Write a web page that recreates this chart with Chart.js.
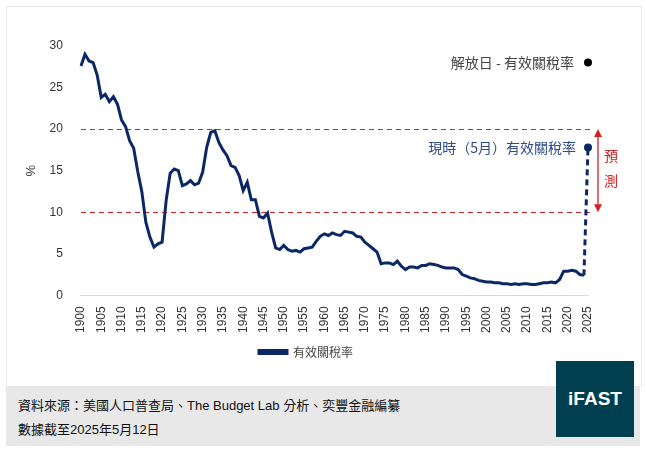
<!DOCTYPE html>
<html>
<head>
<meta charset="utf-8">
<script src="https://cdn.jsdelivr.net/npm/chart.js@4"></script>
<style>
  body { margin: 0; background: #fff; width: 646px; height: 460px; position: relative; font-family: 'Liberation Sans', 'Noto Sans CJK TC', sans-serif; }
  .card { position: absolute; left: 6px; top: 6px; width: 634px; height: 380px; border: 1px solid #e6e6e6; border-bottom: none; }
  #wrap { position: absolute; left: 0; top: 0; width: 646px; height: 380px; }
  .footer { position: absolute; left: 6px; top: 386px; width: 634px; height: 60px; background: #e8e8e8; font-size: 13px; color: #111; }
  .footer div { position: absolute; left: 12px; }
  .logo { position: absolute; left: 556px; top: 361px; width: 78px; height: 76px; background: #003f50; color: #fff; font-weight: bold; font-size: 19px; display: flex; align-items: center; justify-content: center; }
</style>
</head>
<body>
<div class="card"></div>
<div id="wrap"><canvas id="chart"></canvas></div>
<div class="footer">
  <div style="top:9px">資料來源：美國人口普查局、The Budget Lab 分析、奕豐金融編纂</div>
  <div style="top:33px">數據截至2025年5月12日</div>
</div>
<div class="logo">iFAST</div>
<script>
const years = [];
for (let y = 1900; y <= 2025; y++) years.push(String(y));

const tariffRate = [
  27.6, 29.0, 28.2, 28.0, 26.5, 23.8, 24.2, 23.3, 23.9, 23.0,
  21.1, 20.3, 18.6, 17.7, 14.9, 12.5, 8.8, 7.0, 5.8, 6.2,
  6.4, 11.4, 14.7, 15.2, 15.0, 13.2, 13.4, 13.8, 13.3, 13.5,
  14.8, 17.8, 19.6, 19.8, 18.4, 17.5, 16.8, 15.6, 15.4, 14.4,
  12.6, 13.6, 11.5, 11.5, 9.5, 9.3, 9.9, 7.6, 5.7, 5.5,
  6.0, 5.5, 5.3, 5.4, 5.2, 5.6, 5.7, 5.8, 6.5, 7.1,
  7.4, 7.2, 7.5, 7.3, 7.2, 7.7, 7.6, 7.5, 7.1, 7.0,
  6.4, 6.0, 5.6, 5.2, 3.8, 3.9, 3.9, 3.7, 4.1, 3.5,
  3.1, 3.4, 3.4, 3.3, 3.6, 3.6, 3.8, 3.7, 3.6, 3.4,
  3.3, 3.3, 3.3, 3.1, 2.5, 2.3, 2.1, 2.0, 1.8, 1.7,
  1.6, 1.6, 1.5, 1.5, 1.4, 1.4, 1.3, 1.4, 1.3, 1.4,
  1.4, 1.3, 1.3, 1.4, 1.5, 1.5, 1.6, 1.5, 1.9, 2.9,
  2.9, 3.0, 2.9, 2.5, 2.4, null
];
const currentRate = 17.8;
const liberationRate = 28;
const forecastLines = [10, 20];
const yTicks = [0, 5, 10, 15, 20, 25, 30];

const navy = '#0b2765';
const red = '#d42020';

const jump = years.map((y, i) => i === 124 ? tariffRate[124] : (i === 125 ? currentRate : null));
const libPoint = years.map((y, i) => i === 125 ? liberationRate : null);

const overlay = {
  id: 'overlay',
  beforeDatasetsDraw(chart) {
    const { ctx, scales: { x, y } } = chart;
    ctx.save();
    ctx.strokeStyle = red;
    ctx.lineWidth = 1.2;
    ctx.setLineDash([5, 4]);
    forecastLines.forEach(v => {
      const py = Math.round(y.getPixelForValue(v)) + 0.5;
      ctx.beginPath();
      ctx.moveTo(x.left, py);
      ctx.lineTo(x.getPixelForValue(125) + 4, py);
      ctx.stroke();
    });
    ctx.restore();
  },
  afterDatasetsDraw(chart) {
    const { ctx, scales: { x, y } } = chart;
    const px = x.getPixelForValue(125);
    ctx.save();
    ctx.font = '14px "Noto Sans CJK TC", sans-serif';
    ctx.textAlign = 'right';
    ctx.textBaseline = 'middle';
    ctx.fillStyle = '#444';
    ctx.fillText('解放日 - 有效關稅率', px - 14, y.getPixelForValue(liberationRate));
    ctx.fillStyle = '#2f4b8a';
    ctx.fillText('現時（5月）有效關稅率', px - 12, y.getPixelForValue(currentRate));
    const ax = px + 10, y1 = y.getPixelForValue(20), y2 = y.getPixelForValue(10);
    ctx.strokeStyle = red; ctx.fillStyle = red; ctx.lineWidth = 1.3;
    ctx.beginPath(); ctx.moveTo(ax, y1 + 6); ctx.lineTo(ax, y2 - 6); ctx.stroke();
    ctx.beginPath(); ctx.moveTo(ax, y1); ctx.lineTo(ax - 4, y1 + 8); ctx.lineTo(ax + 4, y1 + 8); ctx.fill();
    ctx.beginPath(); ctx.moveTo(ax, y2); ctx.lineTo(ax - 4, y2 - 8); ctx.lineTo(ax + 4, y2 - 8); ctx.fill();
    ctx.textAlign = 'left';
    ctx.fillText('預', ax + 6, y.getPixelForValue(16.8));
    ctx.fillText('測', ax + 6, y.getPixelForValue(13.8));
    ctx.restore();
  }
};

new Chart(document.getElementById('chart'), {
  type: 'line',
  data: {
    labels: years,
    datasets: [
      { label: '有效關稅率', data: tariffRate, borderColor: navy, backgroundColor: navy, borderWidth: 3, pointRadius: 0, tension: 0 },
      { label: 'jump', data: jump, borderColor: navy, borderWidth: 3, borderDash: [6, 4], pointRadius: [0, 4], pointBackgroundColor: navy, pointBorderWidth: 0, spanGaps: true },
      { label: 'lib', data: libPoint, showLine: false, pointRadius: 4, pointBackgroundColor: '#000', pointBorderWidth: 0 }
    ]
  },
  options: {
    responsive: true,
    maintainAspectRatio: false,
    animation: false,
    layout: { padding: { left: 24, right: 58, top: 46, bottom: 12 } },
    plugins: {
      legend: {
        position: 'bottom',
        labels: {
          filter: item => item.datasetIndex === 0,
          boxWidth: 28, boxHeight: 3, color: '#444',
          font: { family: '"Noto Sans CJK TC", sans-serif', size: 12 }
        }
      },
      tooltip: { enabled: false }
    },
    scales: {
      x: {
        grid: { display: false },
        border: { color: '#d9d9d9' },
        ticks: {
          autoSkip: false, maxRotation: 90, minRotation: 90, color: '#333',
          font: { family: 'Liberation Sans', size: 12 },
          callback: (v, i) => i % 5 === 0 ? years[i] : ''
        }
      },
      y: {
        min: 0, max: 30,
        afterBuildTicks: axis => { axis.ticks = yTicks.map(v => ({ value: v })); },
        grid: { display: false },
        border: { display: false },
        title: { display: true, text: '%', color: '#333', font: { size: 13 }, padding: 0 },
        ticks: { color: '#333', padding: 10, font: { family: 'Liberation Sans', size: 12 } }
      }
    }
  },
  plugins: [overlay]
});
</script>
</body>
</html>
